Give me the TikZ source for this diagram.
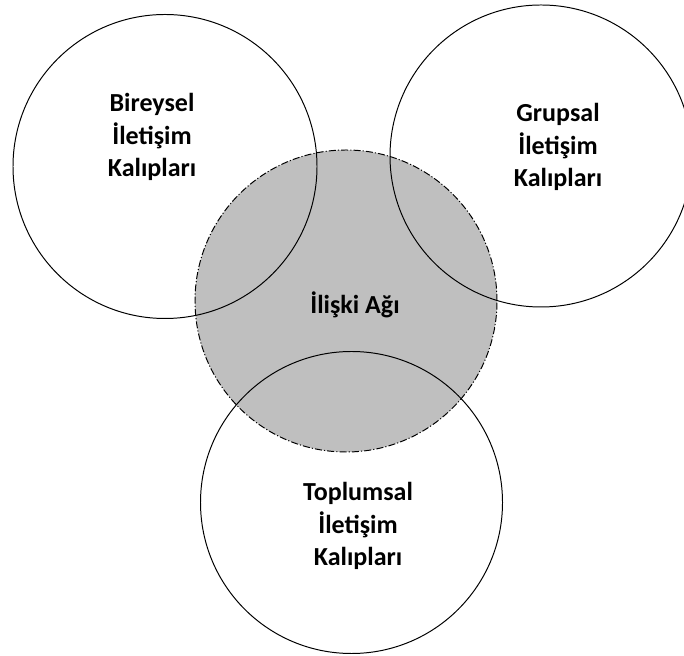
\documentclass[tikz,border=0pt]{standalone}
\usepackage{fontspec}
\setmainfont{Carlito}
\begin{document}
\begin{tikzpicture}
        [
        Ring/.style={circle,draw=black,line width=0.7pt,minimum size=7.55cm,inner sep=0pt},
        Hub/.style={circle,draw=black,fill=black!25,line width=0.7pt,dash pattern=on 5pt off 1.5pt on 0.8pt off 1.5pt,minimum size=7.55cm,inner sep=0pt},
        Tag/.style={rectangle,align=center,font=\bfseries\fontsize{18.5}{23}\selectfont},
        ]

        \clip (0,0) rectangle (17.1, 16.375);
        \node[Hub] (hub) at (8.65, 8.85){};
        \node[Ring, minimum size=7.6cm] (ring1) at (4.125, 12.2125){};
        \node[Ring] (ring2) at (13.525, 12.475){};
        \node[Ring] (ring3) at (8.7875, 3.8125){};

        \node[Tag] (tag1) at (3.8, 12.95){Bireysel\\İletişim\\Kalıpları};
        \node[Tag] (tag2) at (13.95, 12.7){Grupsal\\İletişim\\Kalıpları};
        \node[Tag] (tag3) at (8.875, 8.75){İlişki Ağı};
        \node[Tag] (tag4) at (8.95, 3.225){Toplumsal\\İletişim\\Kalıpları};

    \end{tikzpicture}
\end{document}
